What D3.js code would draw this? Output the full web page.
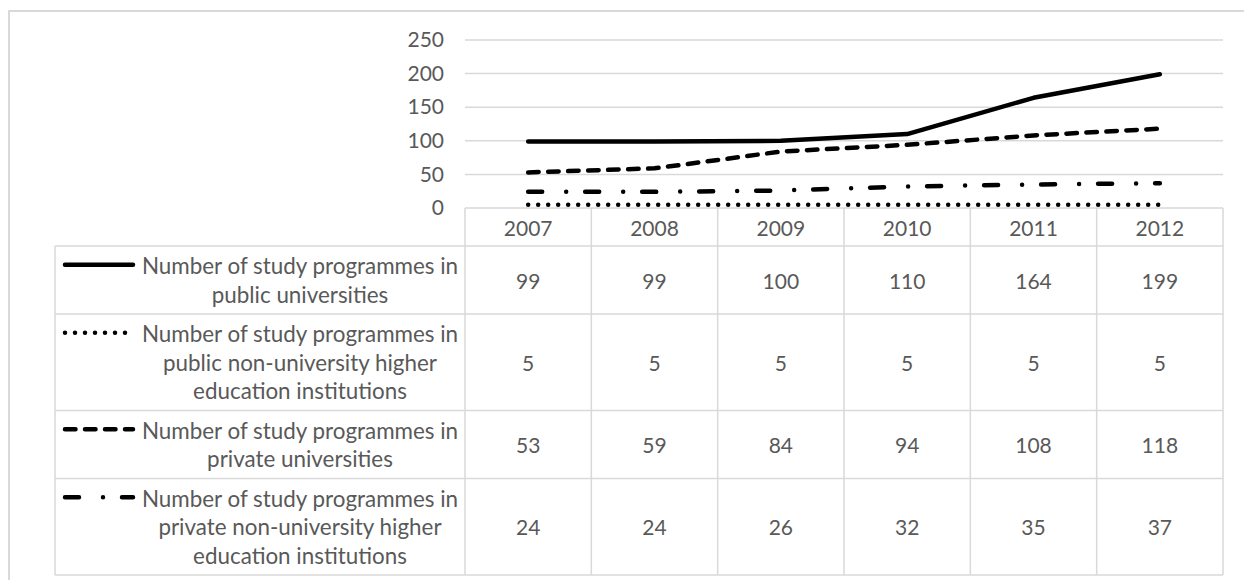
<!DOCTYPE html>
<html>
<head>
<meta charset="utf-8">
<script src="https://cdn.jsdelivr.net/npm/d3@7"></script>
<style>
  html, body { margin: 0; padding: 0; background: #ffffff; }
  svg { display: block; }
  text { font-family: Lato, "Open Sans", sans-serif; fill: #595959; }
</style>
</head>
<body>
<svg id="chart" width="1244" height="580"></svg>
<script>
// ---- data ----
const years = ["2007", "2008", "2009", "2010", "2011", "2012"];
const yTicks = [0, 50, 100, 150, 200, 250];
const publicUniversities = [99, 99, 100, 110, 164, 199];
const publicNonUniversity = [5, 5, 5, 5, 5, 5];
const privateUniversities = [53, 59, 84, 94, 108, 118];
const privateNonUniversity = [24, 24, 26, 32, 35, 37];
const seriesLabels = [
  ["Number of study programmes in", "public universities"],
  ["Number of study programmes in", "public non-university higher", "education institutions"],
  ["Number of study programmes in", "private universities"],
  ["Number of study programmes in", "private non-university higher", "education institutions"]
];

const series = [
  { values: publicUniversities, lines: seriesLabels[0], dash: null },
  { values: publicNonUniversity, lines: seriesLabels[1], dash: "0,10" },
  { values: privateUniversities, lines: seriesLabels[2], dash: "10.5,9.5" },
  { values: privateNonUniversity, lines: seriesLabels[3], dash: "14,24,0,19" }
];

// ---- layout ----
const svg = d3.select("#chart");
const plotLeft = 465, plotRight = 1223, plotTop = 40, plotBottom = 208;
const tableLeft = 55, headerBottom = 246;
const lineH = 28.5, rowPad = 11;
const grid = "#d9d9d9";
const strokeW = 4.5;

// outer chart border (extends beyond the picture on right / bottom)
svg.append("rect")
  .attr("x", 9).attr("y", 11).attr("width", 1260).attr("height", 600)
  .attr("fill", "none").attr("stroke", grid).attr("stroke-width", 2);

const x = d3.scaleBand().domain(years).range([plotLeft, plotRight]);
const y = d3.scaleLinear().domain([0, 250]).range([plotBottom, plotTop]);

// gridlines
svg.append("g").selectAll("line")
  .data(yTicks.filter(d => d > 0))
  .join("line")
  .attr("x1", plotLeft).attr("x2", plotRight)
  .attr("y1", d => y(d)).attr("y2", d => y(d))
  .attr("stroke", grid).attr("stroke-width", 1.5);

// y axis labels
const yAxis = svg.append("g")
  .attr("transform", `translate(${plotLeft},0)`)
  .call(d3.axisLeft(y).tickValues(yTicks).tickSize(0).tickPadding(21));
yAxis.select(".domain").remove();
yAxis.selectAll("text")
  .style("font-family", "Lato, 'Open Sans', sans-serif")
  .style("font-size", "21px")
  .attr("fill", "#595959");

// lines
const lineGen = d3.line()
  .x((d, i) => x(years[i]) + x.bandwidth() / 2)
  .y(d => y(d))
  .curve(d3.curveLinear);

svg.append("g").selectAll("path")
  .data(series)
  .join("path")
  .attr("d", d => lineGen(d.values))
  .attr("fill", "none")
  .attr("stroke", "#000")
  .attr("stroke-width", strokeW)
  .attr("stroke-linecap", "round")
  .attr("stroke-linejoin", "round")
  .attr("stroke-dasharray", d => d.dash);

// ---- data table ----
const tg = svg.append("g");
const rowTops = [];
let yy = headerBottom;
series.forEach(s => { rowTops.push(yy); yy += s.lines.length * lineH + rowPad; });
const tableBottom = yy;

// header row top
tg.append("line").attr("x1", plotLeft).attr("x2", plotRight)
  .attr("y1", plotBottom).attr("y2", plotBottom).attr("stroke", grid).attr("stroke-width", 1.5);
// horizontal row lines
tg.selectAll("line.row")
  .data(rowTops.concat([tableBottom]))
  .join("line").attr("class", "row")
  .attr("x1", tableLeft).attr("x2", plotRight)
  .attr("y1", d => d).attr("y2", d => d)
  .attr("stroke", grid).attr("stroke-width", 1.5);
// vertical column lines
const colEdges = years.map(d => x(d)).concat([plotRight]);
tg.selectAll("line.col")
  .data(colEdges)
  .join("line").attr("class", "col")
  .attr("x1", d => d).attr("x2", d => d)
  .attr("y1", plotBottom).attr("y2", tableBottom)
  .attr("stroke", grid).attr("stroke-width", 1.5);
tg.append("line").attr("x1", tableLeft).attr("x2", tableLeft)
  .attr("y1", headerBottom).attr("y2", tableBottom).attr("stroke", grid).attr("stroke-width", 1.5);

// year headers
tg.selectAll("text.year")
  .data(years)
  .join("text").attr("class", "year")
  .attr("x", d => x(d) + x.bandwidth() / 2)
  .attr("y", (plotBottom + headerBottom) / 2)
  .attr("text-anchor", "middle").attr("dominant-baseline", "central")
  .style("font-size", "21px")
  .text(d => d);

// rows
series.forEach((s, r) => {
  const top = rowTops[r];
  const h = s.lines.length * lineH + rowPad;
  const mid = top + h / 2;
  tg.selectAll(null)
    .data(s.values)
    .join("text")
    .attr("x", (d, i) => x(years[i]) + x.bandwidth() / 2)
    .attr("y", mid)
    .attr("text-anchor", "middle").attr("dominant-baseline", "central")
    .style("font-size", "21px")
    .text(d => d);
  const firstY = mid - (s.lines.length - 1) * lineH / 2;
  tg.selectAll(null)
    .data(s.lines)
    .join("text")
    .attr("x", 300)
    .attr("y", (d, i) => firstY + i * lineH)
    .attr("text-anchor", "middle").attr("dominant-baseline", "central")
    .style("font-size", "22.4px")
    .text(d => d);
  tg.append("line")
    .attr("x1", 65).attr("x2", 133)
    .attr("y1", firstY - 1).attr("y2", firstY - 1)
    .attr("stroke", "#000").attr("stroke-width", strokeW)
    .attr("stroke-linecap", "round")
    .attr("stroke-dasharray", s.dash);
});
</script>
</body>
</html>
